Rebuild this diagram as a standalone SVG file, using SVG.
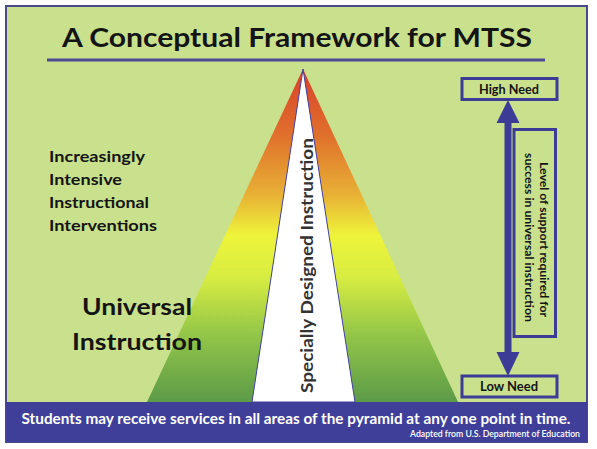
<svg xmlns="http://www.w3.org/2000/svg" width="597" height="449" viewBox="0 0 597 449">
  <defs>
    <linearGradient id="pyr" x1="0" y1="69" x2="0" y2="402" gradientUnits="userSpaceOnUse">
      <stop offset="0" stop-color="#d8402a"/>
      <stop offset="0.2" stop-color="#e0702c"/>
      <stop offset="0.38" stop-color="#e8b235"/>
      <stop offset="0.5" stop-color="#eef43a"/>
      <stop offset="0.63" stop-color="#d6ec42"/>
      <stop offset="0.8" stop-color="#92c548"/>
      <stop offset="1" stop-color="#5c9b48"/>
    </linearGradient>
    <style>
      .t { font-family: Lato, "Open Sans", "Liberation Sans", sans-serif; font-weight: bold; fill: #141414; }
      .box { fill: none; stroke: #3c3c96; stroke-width: 3; }
    </style>
  </defs>
  <rect x="0" y="0" width="597" height="449" fill="#ffffff"/>
  <g id="frame">
    <rect x="6" y="6" width="581" height="436" fill="#c9e18c" stroke="#4a4a8a" stroke-width="2"/>
  </g>
  <g id="title">
    <text class="t" x="297" y="46.5" font-size="27" text-anchor="middle" textLength="470" lengthAdjust="spacingAndGlyphs">A Conceptual Framework for MTSS</text>
    <rect x="47" y="58.5" width="498" height="3" fill="#4b4b94"/>
  </g>
  <g id="pyramid">
    <polygon points="303,69 147,402 458,402" fill="url(#pyr)"/>
    <polygon points="303,69 252,402 355,402" fill="#ffffff" stroke="#4040a0" stroke-width="1"/>
    <text class="t" transform="translate(313,265.5) rotate(-90)" font-size="17" text-anchor="middle" textLength="255" lengthAdjust="spacingAndGlyphs" style="fill:#333333">Specially Designed Instruction</text>
  </g>
  <g id="left-labels">
    <text class="t" x="49" y="162" font-size="15" textLength="96" lengthAdjust="spacingAndGlyphs">Increasingly</text>
    <text class="t" x="49" y="185" font-size="15" textLength="73" lengthAdjust="spacingAndGlyphs">Intensive</text>
    <text class="t" x="49" y="208" font-size="15" textLength="100" lengthAdjust="spacingAndGlyphs">Instructional</text>
    <text class="t" x="49" y="231" font-size="15" textLength="108" lengthAdjust="spacingAndGlyphs">Interventions</text>
    <text class="t" x="82" y="315" font-size="23.5" textLength="110" lengthAdjust="spacingAndGlyphs">Universal</text>
    <text class="t" x="72" y="350" font-size="23.5" textLength="130" lengthAdjust="spacingAndGlyphs">Instruction</text>
  </g>
  <g id="connectors">
    <rect x="504.5" y="121" width="7" height="233" fill="#3c3c96"/>
    <polygon points="508,100 496.5,123 519.5,123" fill="#3c3c96"/>
    <polygon points="508,376 496.5,352 519.5,352" fill="#3c3c96"/>
  </g>
  <g id="high-need">
    <rect class="box" x="462" y="78.5" width="95" height="21" style="fill:#c9e18c"/>
    <text class="t" x="509" y="93.5" font-size="13" text-anchor="middle" textLength="60" lengthAdjust="spacingAndGlyphs">High Need</text>
  </g>
  <g id="low-need">
    <rect class="box" x="462" y="376" width="95" height="21" style="fill:#c9e18c"/>
    <text class="t" x="509" y="391" font-size="13" text-anchor="middle" textLength="58" lengthAdjust="spacingAndGlyphs">Low Need</text>
  </g>
  <g id="support-level">
    <rect class="box" x="514" y="129.5" width="41.5" height="207"/>
    <text class="t" transform="translate(539.5,239.5) rotate(90)" font-size="12" text-anchor="middle" textLength="155" lengthAdjust="spacingAndGlyphs">Level of support required for</text>
    <text class="t" transform="translate(525,237.5) rotate(90)" font-size="12" text-anchor="middle" textLength="169" lengthAdjust="spacingAndGlyphs">success in universal instruction</text>
  </g>
  <g id="footer">
    <rect x="6" y="402" width="581" height="40" fill="#3f3f99"/>
    <text class="t" x="296" y="424" font-size="15.5" text-anchor="middle" textLength="549" lengthAdjust="spacingAndGlyphs" style="fill:#ffffff">Students may receive services in all areas of the pyramid at any one point in time.</text>
    <text x="580" y="436.5" font-family="Lato, 'Open Sans', 'Liberation Sans', sans-serif" font-size="8.5" font-weight="600" text-anchor="end" fill="#ffffff" textLength="170" lengthAdjust="spacingAndGlyphs">Adapted from U.S. Department of Education</text>
  </g>
</svg>
